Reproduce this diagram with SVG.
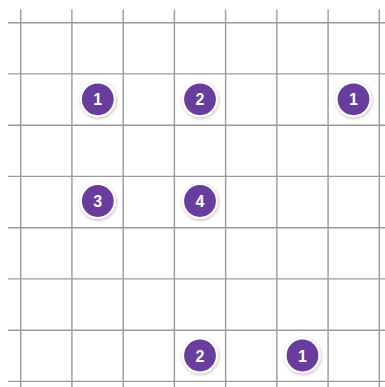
<svg xmlns="http://www.w3.org/2000/svg" width="385" height="387" viewBox="0 0 385 387">
  <defs>
    <filter id="sh" x="-40%" y="-40%" width="180%" height="180%">
      <feDropShadow dx="0.5" dy="1" stdDeviation="1.6" flood-color="#000" flood-opacity="0.3"/>
    </filter>
  </defs>
  <style>
    .g { stroke: #9a9a9a; stroke-width: 1.4; fill: none; }
    .c { fill: #683c9e; stroke: #ffffff; stroke-width: 2.2; filter: url(#sh); }
    .t { fill: #ffffff; font-family: "Liberation Sans", Arial, sans-serif; font-weight: bold; font-size: 16px; text-anchor: middle; dominant-baseline: central; }
  </style>
  <rect width="385" height="387" fill="#ffffff"/>
  <g id="grid">
    <line class="g" x1="20.7" y1="9.5" x2="20.7" y2="387"/>
    <line class="g" x1="71.9" y1="9.5" x2="71.9" y2="387"/>
    <line class="g" x1="123.2" y1="9.5" x2="123.2" y2="387"/>
    <line class="g" x1="174.4" y1="9.5" x2="174.4" y2="387"/>
    <line class="g" x1="225.6" y1="9.5" x2="225.6" y2="387"/>
    <line class="g" x1="276.9" y1="9.5" x2="276.9" y2="387"/>
    <line class="g" x1="328.1" y1="9.5" x2="328.1" y2="387"/>
    <line class="g" x1="379.3" y1="9.5" x2="379.3" y2="387"/>
    <line class="g" x1="8" y1="22.7" x2="385" y2="22.7"/>
    <line class="g" x1="8" y1="73.9" x2="385" y2="73.9"/>
    <line class="g" x1="8" y1="125.2" x2="385" y2="125.2"/>
    <line class="g" x1="8" y1="176.4" x2="385" y2="176.4"/>
    <line class="g" x1="8" y1="227.7" x2="385" y2="227.7"/>
    <line class="g" x1="8" y1="278.9" x2="385" y2="278.9"/>
    <line class="g" x1="8" y1="330.2" x2="385" y2="330.2"/>
    <line class="g" x1="8" y1="381.4" x2="385" y2="381.4"/>
  </g>
  <g id="n1"><circle class="c" cx="97.8" cy="99.3" r="17"/><text class="t" x="97.8" y="99.8">1</text></g>
  <g id="n2"><circle class="c" cx="200" cy="99.3" r="17"/><text class="t" x="200" y="99.8">2</text></g>
  <g id="n3"><circle class="c" cx="353.5" cy="99.3" r="17"/><text class="t" x="353.5" y="99.8">1</text></g>
  <g id="n4"><circle class="c" cx="97.8" cy="201" r="17"/><text class="t" x="97.8" y="201.5">3</text></g>
  <g id="n5"><circle class="c" cx="200" cy="201" r="17"/><text class="t" x="200" y="201.5">4</text></g>
  <g id="n6"><circle class="c" cx="200" cy="355.5" r="17"/><text class="t" x="200" y="356">2</text></g>
  <g id="n7"><circle class="c" cx="302.5" cy="355.5" r="17"/><text class="t" x="302.5" y="356">1</text></g>
  <g id="connectors"></g>
</svg>
